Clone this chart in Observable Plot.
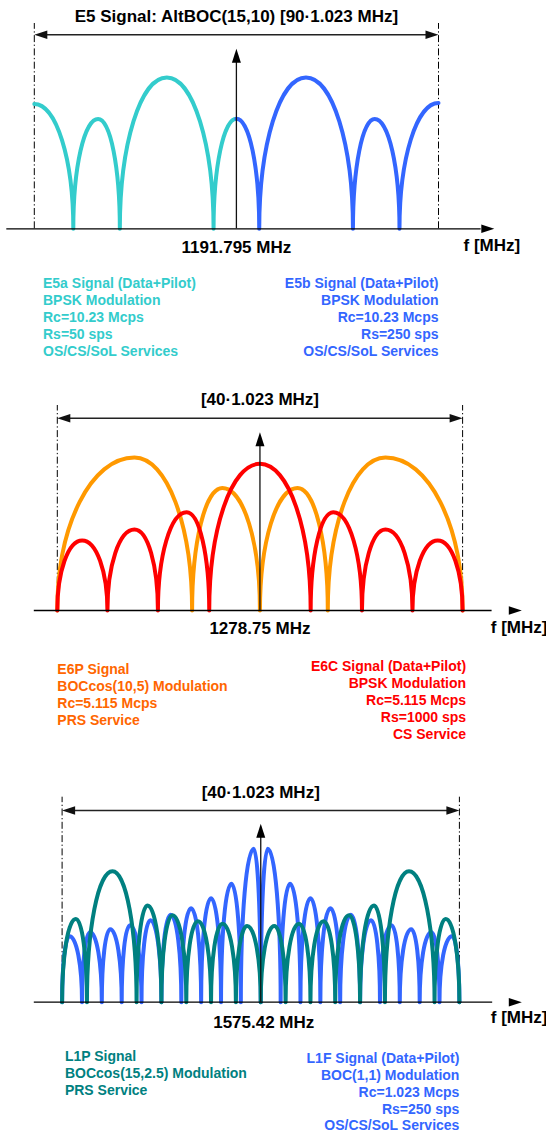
<!DOCTYPE html>
<html><head><meta charset="utf-8">
<script src="https://cdn.jsdelivr.net/npm/d3@7"></script>
<script src="https://cdn.jsdelivr.net/npm/@observablehq/plot@0.6"></script>
<style>
html,body{margin:0;padding:0;background:#fff;}
#chart{width:546px;}
#chart svg{display:block;}
</style></head><body><div id="chart"></div>
<script>
// ---------- DATA (frequency offset from carrier in MHz, relative level) ----------
// Panel 1: E5 AltBOC(15,10)
const e5aFreq  = [-46.035, -37.15, -31.5, -26.55, -15.85, -5.2, 0];
const e5aLevel = [82.5, 0, 72.6, 0, 100, 0, 72.7];
const e5bFreq  = [0, 5.2, 15.85, 26.55, 31.5, 37.15, 46.035];
const e5bLevel = [72.7, 0, 100, 0, 72.6, 0, 83.1];

// Panel 2: E6
const e6pFreq  = [-20.46, -12.67, -6.85, -3.8, 0, 3.8, 6.85, 12.67, 20.46];
const e6pLevel = [0, 100, 0, 80.1, 0, 80.1, 0, 100, 0];
const e6cFreq  = [-20.46, -17.95, -15.4, -12.67, -10.3, -7.4, -5.12, 0, 5.12, 7.4, 10.3, 12.67, 15.4, 17.95, 20.46];
const e6cLevel = [0, 45.8, 0, 52.9, 0, 64.2, 0, 95.9, 0, 64.2, 0, 52.9, 0, 45.8, 0];

// Panel 3: L1
const l1fFreq  = [-20.46, -19.7, -18.41, -17.58, -16.37, -15.5, -14.32, -13.47, -12.28, -11.36, -10.23, -9.28, -8.18, -7.18, -6.14, -5.12, -4.09, -3.02, -2.05, -0.72, 0,
                  0.72, 2.05, 3.02, 4.09, 5.12, 6.14, 7.18, 8.18, 9.28, 10.23, 11.36, 12.28, 13.47, 14.32, 15.5, 16.37, 17.58, 18.41, 19.7, 20.46];
const l1fLevel = [0, 43.0, 0, 45.6, 0, 47.6, 0, 50.2, 0, 53.4, 0, 57.0, 0, 61.2, 0, 67.8, 0, 77.2, 0, 100, 0,
                  100, 0, 77.2, 0, 67.8, 0, 61.2, 0, 57.0, 0, 53.4, 0, 50.2, 0, 47.6, 0, 45.6, 0, 43.0, 0];
const l1pFreq  = [-20.46, -19.05, -17.9, -15.27, -12.79, -11.67, -10.23, -9.09, -7.67, -6.47, -5.12, -3.94, -2.56, -1.4, 0,
                  1.4, 2.56, 3.94, 5.12, 6.47, 7.67, 9.09, 10.23, 11.67, 12.79, 15.27, 17.9, 19.05, 20.46];
const l1pLevel = [0, 54.2, 0, 85.3, 0, 63.0, 0, 56.6, 0, 52.7, 0, 51.1, 0, 49.6, 0,
                  49.6, 0, 51.1, 0, 52.7, 0, 56.6, 0, 63.0, 0, 85.3, 0, 54.2, 0];

// ---------- TEXT ----------
const spanLabels   = ["E5 Signal: AltBOC(15,10) [90\u00B71.023 MHz]", "[40\u00B71.023 MHz]", "[40\u00B71.023 MHz]"];
const centerLabels = ["1191.795 MHz", "1278.75 MHz", "1575.42 MHz"];
const axisLabel    = "f [MHz]";
const halfSpans    = [46.035, 20.46, 20.46];
const leftInfo = [
  ["E5a Signal (Data+Pilot)", "BPSK Modulation", "Rc=10.23 Mcps", "Rs=50 sps", "OS/CS/SoL Services"],
  ["E6P Signal", "BOCcos(10,5) Modulation", "Rc=5.115 Mcps", "PRS Service"],
  ["L1P Signal", "BOCcos(15,2.5) Modulation", "PRS Service"]
];
const rightInfo = [
  ["E5b Signal (Data+Pilot)", "BPSK Modulation", "Rc=10.23 Mcps", "Rs=250 sps", "OS/CS/SoL Services"],
  ["E6C Signal (Data+Pilot)", "BPSK Modulation", "Rc=5.115 Mcps", "Rs=1000 sps", "CS Service"],
  ["L1F Signal (Data+Pilot)", "BOC(1,1) Modulation", "Rc=1.023 Mcps", "Rs=250 sps", "OS/CS/SoL Services"]
];

// ---------- STYLE / LAYOUT ----------
const FONT = "'Liberation Sans', Arial, Helvetica, sans-serif";
const C = {e5a:"#33CCCC", e5b:"#3366FF", e6p:"#FF9900", e6pText:"#FF6600", e6c:"#FF0000", l1p:"#008080", l1f:"#3366FF"};

const rows = (f, v) => f.map((x, i) => ({f: x, v: v[i]}));

const panels = [
  {height:370, xRange:[33.8,438], base:228.3, k:1.513, dashTop:23, spanY:34.3, tipY:48.3, axisX:[6.3,493.8],
   titleY:16, centerY:246.7, centerDx:0, fX:463, fY:245, leftX:42.5, leftY:280.7, rightX:438, rightY:280.7, lh:17,
   leftColor:C.e5a, rightColor:C.e5b,
   series:[{d:rows(e5aFreq,e5aLevel), c:C.e5a},{d:rows(e5bFreq,e5bLevel), c:C.e5b}]},
  {height:380, xRange:[56.8,462.1], base:240, k:1.53, dashTop:35, spanY:47.7, tipY:61.7, axisX:[33.8,521.3],
   titleY:29.3, centerY:258.3, centerDx:0, fX:490.3, fY:256.7, leftX:56.8, leftY:296.3, rightX:465.6, rightY:293, lh:17.1,
   leftColor:C.e6pText, rightColor:C.e6c,
   series:[{d:rows(e6pFreq,e6pLevel), c:C.e6p},{d:rows(e6cFreq,e6cLevel), c:C.e6c}]},
  {height:383, xRange:[61.6,458.9], base:251.7, k:1.535, dashTop:46.7, spanY:60, tipY:73.3, axisX:[33.8,521.3],
   titleY:41.7, centerY:271.7, centerDx:3, fX:490.3, fY:266.7, leftX:64.4, leftY:303.7, rightX:458.9, rightY:305.8, lh:16.8,
   leftColor:C.l1p, rightColor:C.l1f,
   series:[{d:rows(l1fFreq,l1fLevel), c:C.l1f},{d:rows(l1pFreq,l1pLevel), c:C.l1p}]}
];

// lobe-shaped curve: vertical tangent at nulls, horizontal tangent at peaks
function lobeCurve(context) {
  let px, py, n;
  const k = 0.56;
  return {
    areaStart() {}, areaEnd() {},
    lineStart() { n = 0; },
    lineEnd() {},
    point(x, y) {
      x = +x; y = +y;
      if (n++ === 0) context.moveTo(x, y);
      else if (y > py) context.bezierCurveTo(px + (x - px) * k, py, x, y - (y - py) * k, x, y);
      else if (y < py) context.bezierCurveTo(px, py - (py - y) * k, x - (x - px) * k, y, x, y);
      else context.lineTo(x, y);
      px = x; py = y;
    }
  };
}

const headRight = {draw(ctx){ ctx.moveTo(0,0); ctx.lineTo(-13,-4.3); ctx.lineTo(-13,4.3); ctx.closePath(); }};
const headLeft  = {draw(ctx){ ctx.moveTo(0,0); ctx.lineTo(13,-4.3); ctx.lineTo(13,4.3); ctx.closePath(); }};
const headUp    = {draw(ctx){ ctx.moveTo(0,0); ctx.lineTo(-4.5,14); ctx.lineTo(4.5,14); ctx.closePath(); }};

function makePanel(p, i) {
  const h = halfSpans[i];
  const sx = d3.scaleLinear([-h, h], p.xRange);
  const fx = px => sx.invert(px);
  const fy = py => (p.base - py) / p.k;
  const txt = {fontFamily: FONT, fontWeight: "bold"};
  const marks = [];
  // dash-dot band edges
  marks.push(Plot.ruleX([-h, h], {y1: 0, y2: fy(p.dashTop), stroke: "#000", strokeWidth: 1, strokeDasharray: "7,2.5,1.3,2.5"}));
  // spectra
  for (const s of p.series) {
    marks.push(Plot.line(s.d, {x: "f", y: "v", stroke: s.c, strokeWidth: 4, curve: lobeCurve, strokeLinejoin: "round", strokeLinecap: "round"}));
  }
  // frequency axis
  marks.push(Plot.ruleY([0], {x1: fx(p.axisX[0]), x2: fx(p.axisX[1]) - 3, stroke: "#000", strokeWidth: 1.3}));
  marks.push(Plot.dot([{x: fx(p.axisX[1]), y: 0}], {x: "x", y: "y", symbol: headRight, r: 5, fill: "#000", stroke: "none"}));
  // center arrow
  marks.push(Plot.ruleX([0], {y1: 0, y2: fy(p.tipY) - 3, stroke: "#111", strokeWidth: 1.3}));
  marks.push(Plot.dot([{x: 0, y: fy(p.tipY)}], {x: "x", y: "y", symbol: headUp, r: 5, fill: "#000", stroke: "none"}));
  // bandwidth double arrow
  marks.push(Plot.ruleY([fy(p.spanY)], {x1: -h + 1, x2: h - 1, stroke: "#222", strokeWidth: 1.6}));
  marks.push(Plot.dot([{x: -h, y: fy(p.spanY)}], {x: "x", y: "y", symbol: headLeft, r: 5, fill: "#111", stroke: "none"}));
  marks.push(Plot.dot([{x: h, y: fy(p.spanY)}], {x: "x", y: "y", symbol: headRight, r: 5, fill: "#111", stroke: "none"}));
  // labels
  marks.push(Plot.text([{x: 0, y: fy(p.titleY), t: spanLabels[i]}], {x: "x", y: "y", text: "t", ...txt, fontSize: 17, fill: "#000", textAnchor: "middle", lineAnchor: "middle"}));
  marks.push(Plot.text([{x: 0, y: fy(p.centerY), t: centerLabels[i]}], {x: "x", y: "y", text: "t", ...txt, fontSize: 17, fill: "#000", textAnchor: "middle", lineAnchor: "middle", dx: p.centerDx}));
  marks.push(Plot.text([{x: fx(p.fX), y: fy(p.fY), t: axisLabel}], {x: "x", y: "y", text: "t", ...txt, fontSize: 17, fill: "#000", textAnchor: "start", lineAnchor: "middle"}));
  // info blocks
  marks.push(Plot.text([{x: fx(p.leftX), y: fy(p.leftY - 5), t: leftInfo[i].join("\n")}], {x: "x", y: "y", text: "t", ...txt, fontSize: 14, lineHeight: p.lh/14, fill: p.leftColor, textAnchor: "start", lineAnchor: "top"}));
  marks.push(Plot.text([{x: fx(p.rightX), y: fy(p.rightY - 5), t: rightInfo[i].join("\n")}], {x: "x", y: "y", text: "t", ...txt, fontSize: 14, lineHeight: p.lh/14, fill: p.rightColor, textAnchor: "end", lineAnchor: "top"}));

  return Plot.plot({
    width: 546, height: p.height, margin: 0,
    style: {background: "#fff", overflow: "visible"},
    x: {domain: [-h, h], range: p.xRange, axis: null},
    y: {domain: [0, 100], range: [p.base, p.base - 100 * p.k], axis: null},
    marks
  });
}

const chart = document.getElementById("chart");
panels.forEach((p, i) => chart.append(makePanel(p, i)));
</script>
</body></html>
